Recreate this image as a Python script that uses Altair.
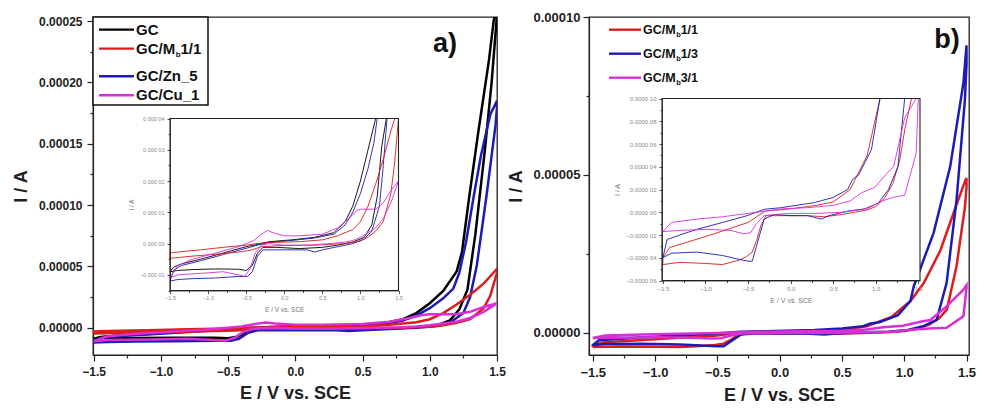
import altair as alt
import pandas as pd

FONT = "Liberation Sans"

# ---------------- Panel a) : E in V, I in microampere ----------------
A_GC_E_FWD = [-1.5, -1.4, -1.2, -0.9, -0.6, -0.5, -0.42, -0.35, -0.28, -0.1, 0.2, 0.5, 0.7, 0.9, 1.05, 1.15, 1.22, 1.28, 1.34, 1.41, 1.46, 1.5]
A_GC_I_FWD = [-9, -8.6, -8.3, -8.1, -8.2, -8.6, -7, -3, -1.2, -1.2, -1.6, -1.2, -0.5, 0.5, 2, 6, 15, 31, 77, 145, 200, 255]
A_GC_E_REV = [1.5, 1.475, 1.44, 1.36, 1.29, 1.24, 1.2, 1.1, 1.0, 0.9, 0.8, 0.65, 0.4, 0.1, -0.2, -0.3, -0.5, -0.8, -1.1, -1.35, -1.45, -1.5]
A_GC_I_REV = [265, 250, 218, 159, 104, 62, 46, 30, 20, 12, 7, 3.5, 2, 1.2, 0.6, 0, -1, -3, -5, -6.5, -7.5, -9]

A_ZN_E_FWD = [-1.5, -1.4, -1.2, -0.9, -0.6, -0.48, -0.42, -0.35, -0.28, 0.0, 0.3, 0.4, 0.5, 0.7, 0.9, 1.05, 1.15, 1.25, 1.3, 1.35, 1.42, 1.49, 1.5]
A_ZN_I_FWD = [-12, -11.5, -11.2, -11, -10.5, -10.5, -9, -4, -2, -2, -2, -2.7, -2, -1, 0, 1.5, 4, 12, 25, 51, 106, 166, 180]
A_ZN_E_REV = [1.5, 1.45, 1.38, 1.325, 1.27, 1.22, 1.175, 1.1, 1.0, 0.9, 0.8, 0.65, 0.4, 0.1, -0.2, -0.35, -0.5, -0.8, -1.1, -1.35, -1.45, -1.5]
A_ZN_I_REV = [185, 174, 140, 106, 70, 45, 32, 24, 16, 10, 6, 3, 1.8, 1, 0.4, -0.5, -1.5, -3.5, -5.5, -7, -8.5, -12]

A_MB_E_FWD = [-1.5, -1.2, -0.9, -0.6, -0.45, -0.3, 0.0, 0.4, 0.8, 1.0, 1.1, 1.2, 1.3, 1.4, 1.45, 1.5]
A_MB_I_FWD = [-4.7, -4.0, -3.4, -2.7, -2.2, -1.0, -0.6, -0.5, 0, 0.8, 2.0, 4.0, 7.0, 16, 26, 45]
A_MB_E_REV = [1.5, 1.45, 1.4, 1.3, 1.2, 1.1, 1.0, 0.9, 0.7, 0.5, 0.2, -0.1, -0.3, -0.5, -0.8, -1.1, -1.4, -1.5]
A_MB_I_REV = [48, 42, 36, 27, 19, 12, 7, 4.5, 2.5, 1.2, 0.6, 0.4, 0.2, -0.5, -1.2, -2.0, -2.7, -3.0]

A_CU_E_FWD = [-1.5, -1.4, -1.1, -0.8, -0.6, -0.52, -0.45, -0.38, -0.3, -0.2, 0.0, 0.3, 0.6, 0.8, 0.9, 1.0, 1.1, 1.2, 1.3, 1.4, 1.5]
A_CU_I_FWD = [-11, -10, -9.5, -9, -10, -10.5, -8, -3, -0.5, 0, -0.5, -0.5, 0, 0.5, 1, 2, 3.5, 5, 8, 13, 20]
A_CU_E_REV = [1.5, 1.4, 1.3, 1.2, 1.1, 1.0, 0.95, 0.85, 0.7, 0.5, 0.2, 0.0, -0.15, -0.22, -0.3, -0.4, -0.6, -0.9, -1.2, -1.4, -1.5]
A_CU_I_REV = [20, 17, 13, 11, 11, 11, 10.5, 8, 5, 3, 2.5, 2.5, 3.5, 4.2, 3, 1, -1, -3, -5, -7, -11]

# ---------------- Panel b) ----------------
B_11_E_FWD = [-1.5, -1.3, -1.0, -0.8, -0.6, -0.52, -0.45, -0.4, -0.35, -0.29, -0.1, 0.2, 0.4, 0.6, 0.9, 1.0, 1.1, 1.2, 1.28, 1.342, 1.42, 1.488, 1.5]
B_11_I_FWD = [-4.6, -4.4, -4.5, -4.6, -4.2, -3.9, -3.5, -2.5, -1.2, -0.3, -0.3, -0.3, -0.4, -0.2, 0.2, 0.5, 1.2, 2.5, 4.5, 7.3, 21, 40, 46]
B_11_E_REV = [1.5, 1.488, 1.396, 1.29, 1.157, 1.05, 0.9, 0.7, 0.5, 0.3, 0.0, -0.3, -0.5, -0.9, -1.2, -1.42, -1.5]
B_11_I_REV = [49, 48, 37.9, 26, 15.7, 10, 5, 2, 0.9, 0.6, 0.3, 0.1, -0.9, -1.9, -2.6, -3.1, -4.0]

B_13_E_FWD = [-1.5, -1.4, -1.1, -0.8, -0.63, -0.5, -0.45, -0.39, -0.31, -0.19, 0.0, 0.2, 0.36, 0.45, 0.67, 0.87, 1.03, 1.15, 1.26, 1.34, 1.42, 1.487, 1.5]
B_13_I_FWD = [-4.0, -3.6, -3.5, -3.8, -4.1, -4.3, -4.3, -2.7, -0.6, -0.2, -0.3, -0.3, -0.6, -0.3, 0.1, 0.3, 0.8, 2, 4, 15.7, 42, 73.7, 85]
B_13_E_REV = [1.5, 1.475, 1.369, 1.236, 1.077, 1.05, 0.95, 0.8, 0.73, 0.67, 0.5, 0.28, -0.11, -0.31, -0.51, -0.8, -1.1, -1.3, -1.45, -1.5]
B_13_I_REV = [91, 79, 52.6, 31.6, 14.7, 10, 5.5, 3.3, 2.9, 2.0, 1.3, 0.85, 0.4, 0.26, -0.3, -0.9, -1.5, -2.0, -2.4, -4.0]

B_31_E_FWD = [-1.5, -1.3, -1.0, -0.7, -0.55, -0.47, -0.4, -0.31, -0.2, 0.0, 0.3, 0.6, 0.9, 1.077, 1.2, 1.34, 1.475, 1.5]
B_31_I_FWD = [-1.7, -1.6, -1.5, -1.6, -1.9, -1.8, -1.0, -0.3, -0.2, -0.1, -0.1, 0.0, 0.3, 1.0, 1.3, 1.5, 5.2, 14]
B_31_E_REV = [1.5, 1.475, 1.34, 1.21, 1.14, 0.99, 0.83, 0.7, 0.5, 0.2, -0.1, -0.3, -0.5, -0.8, -1.1, -1.4, -1.5]
B_31_I_REV = [15, 13.6, 8.3, 4, 3.5, 2.2, 1.7, 1.0, 0.6, 0.4, 0.3, 0.1, -0.1, -0.4, -0.6, -0.9, -1.7]

A_NAMES = ["GC", "GC/Zn_5", "GC/Mb 1/1", "GC/Cu_1"]
A_COLORS = ["#000000", "#1c1cb4", "#dd1c1c", "#d92fd9"]
B_NAMES = ["GC/Mb 1/1", "GC/Mb 1/3", "GC/Mb 3/1"]
B_COLORS = ["#dd1c1c", "#1c1cb4", "#d92fd9"]

A_LEGEND = [("GC", "", "", "#000000"), ("GC/M", "b", "1/1", "#dd1c1c"),
            ("GC/Zn_5", "", "", "#1c1cb4"), ("GC/Cu_1", "", "", "#d92fd9")]
B_LEGEND = [("GC/M", "b", "1/1", "#dd1c1c"), ("GC/M", "b", "1/3", "#1c1cb4"),
            ("GC/M", "b", "3/1", "#d92fd9")]


def cv_table(series):
    rows = []
    for name, ef, i_f, er, i_r in series:
        es = list(ef) + list(er) + [ef[0]]
        cs = list(i_f) + list(i_r) + [i_f[0]]
        for k, (e, c) in enumerate(zip(es, cs)):
            rows.append({"series": name, "k": k, "E": e, "I": c * 1e-6})
    return pd.DataFrame(rows)


DF_A = cv_table([
    ("GC", A_GC_E_FWD, A_GC_I_FWD, A_GC_E_REV, A_GC_I_REV),
    ("GC/Zn_5", A_ZN_E_FWD, A_ZN_I_FWD, A_ZN_E_REV, A_ZN_I_REV),
    ("GC/Mb 1/1", A_MB_E_FWD, A_MB_I_FWD, A_MB_E_REV, A_MB_I_REV),
    ("GC/Cu_1", A_CU_E_FWD, A_CU_I_FWD, A_CU_E_REV, A_CU_I_REV),
])
DF_B = cv_table([
    ("GC/Mb 1/1", B_11_E_FWD, B_11_I_FWD, B_11_E_REV, B_11_I_REV),
    ("GC/Mb 1/3", B_13_E_FWD, B_13_I_FWD, B_13_E_REV, B_13_I_REV),
    ("GC/Mb 3/1", B_31_E_FWD, B_31_I_FWD, B_31_E_REV, B_31_I_REV),
])

X_TICKS = [round(-1.5 + 0.25 * i, 2) for i in range(13)]


def is_major(step):
    return f"abs(datum.value/{step} - round(datum.value/{step})) < 0.001"


def make_axis(values, step, fmt, title, *, split=False, label_size=12, title_size=18,
              tick_major=6, tick_minor=3, label_pad=4, title_pad=10, label_color="#222",
              title_color="#222", weight="bold", orient=None, offset=None, zindex=0,
              tick_width=1.2):
    test = is_major(step)
    f = f"format(datum.value, '{fmt}')"
    lab = f"slice({f},0,-2) + ' ' + slice({f},-2)" if split else f
    kw = dict(
        values=values, title=title,
        labelExpr=f"({test}) ? ({lab}) : ''",
        tickSize={"condition": {"test": test, "value": tick_major}, "value": tick_minor},
        labelFontSize=label_size, labelFont=FONT, labelFontWeight=weight,
        labelColor=label_color, labelPadding=label_pad,
        titleFontSize=title_size, titleFont=FONT, titleFontWeight=weight,
        titleColor=title_color, titlePadding=title_pad,
        tickColor="#222", tickWidth=tick_width, domainColor="#222", domainWidth=tick_width,
        labelFlush=False, labelOverlap=False, grid=False, zindex=zindex,
    )
    if orient is not None:
        kw["orient"] = orient
    if offset is not None:
        kw["offset"] = offset
    return alt.Axis(**kw)


ONE = pd.DataFrame({"k": [0]})


def vtext(x, y, s, size, color="#111", align="left", weight="bold"):
    return alt.Chart(ONE).mark_text(align=align, baseline="middle", font=FONT,
                                    fontSize=size, fontWeight=weight, color=color).encode(
        x=alt.value(x), y=alt.value(y), text=alt.value(s))


def legend_layers(entries, rows_y, x_line0, x_line1, x_text, size, sub_size):
    out = []
    for (main, sub, rest, col), y in zip(entries, rows_y):
        out.append(alt.Chart(ONE).mark_rule(color=col, strokeWidth=2.4).encode(
            x=alt.value(x_line0), x2=alt.value(x_line1), y=alt.value(y)))
        out.append(vtext(x_text, y, main, size))
        if sub:
            w = 2.611 * size
            out.append(vtext(x_text + w + 0.5, y + size * 0.42, sub, sub_size))
            out.append(vtext(x_text + w + sub_size * 0.6 + 0.5, y, rest, size))
    return out


def main_lines(df, names, colors, xdom, ydom, xaxis, yaxis):
    return alt.Chart(df).mark_line(clip=True, strokeWidth=2.5).encode(
        x=alt.X("E:Q", scale=alt.Scale(domain=xdom, nice=False, zero=False), axis=xaxis),
        y=alt.Y("I:Q", scale=alt.Scale(domain=ydom, nice=False, zero=False), axis=yaxis),
        color=alt.Color("series:N", scale=alt.Scale(domain=names, range=colors), legend=None),
        order="k:Q",
    )


def inset(df, names, colors, xdom, ydom, xrange, yrange, xaxis, yaxis):
    xs = alt.Scale(domain=xdom, range=xrange, nice=False, zero=False, clamp=True)
    ys = alt.Scale(domain=ydom, range=yrange, nice=False, zero=False, clamp=True)
    box = pd.DataFrame({"E": [xdom[0]], "E2": [xdom[1]], "I": [ydom[0]], "I2": [ydom[1]]})
    bg = alt.Chart(box).mark_rect(fill="white").encode(
        x=alt.X("E:Q", scale=xs, axis=xaxis), x2="E2",
        y=alt.Y("I:Q", scale=ys, axis=yaxis), y2="I2")
    lines = alt.Chart(df).mark_line(strokeWidth=0.9).encode(
        x=alt.X("E:Q", scale=xs, axis=xaxis),
        y=alt.Y("I:Q", scale=ys, axis=yaxis),
        color=alt.Color("series:N", scale=alt.Scale(domain=names, range=colors), legend=None),
        order="k:Q",
    )
    frame = alt.Chart(box).mark_rect(fillOpacity=0, stroke="#222", strokeWidth=1.1).encode(
        x=alt.X("E:Q", scale=xs, axis=xaxis), x2="E2",
        y=alt.Y("I:Q", scale=ys, axis=yaxis), y2="I2")
    return alt.layer(bg, lines, frame)


# ---------------- panel a ----------------
WA, HA = 404, 338
A_XDOM = [-1.505, 1.5]
A_YDOM = [-2.22e-5, 2.534e-4]
A_YTICKS = [round(2.5e-5 * i, 7) for i in range(11)]

main_a = main_lines(
    DF_A, A_NAMES, A_COLORS, A_XDOM, A_YDOM,
    make_axis(X_TICKS, 0.5, ".1f", "E / V vs. SCE", label_pad=5, title_pad=7),
    make_axis(A_YTICKS, 5e-5, ".5f", "I / A", label_pad=5, title_pad=8),
)
legend_box_a = alt.Chart(ONE).mark_rect(fill="white", stroke="#111", strokeWidth=1.5).encode(
    x=alt.value(0), x2=alt.value(115), y=alt.value(0), y2=alt.value(88))
deco_a = [legend_box_a] + legend_layers(A_LEGEND, [12.6, 31.6, 59.3, 78.3], 6, 41, 43, 15, 8) + [
    vtext(352, 27, "a)", 27, align="center")]

A_IN_YTICKS = [round(-1.5e-5 + 5e-6 * i, 8) for i in range(12)]
A_IN_XR = [77, 305.5]
A_IN_YR = [273.5, 101.5]
inset_a = inset(
    DF_A, A_NAMES, A_COLORS, [-1.5, 1.5], [-1.5e-5, 4e-5], A_IN_XR, A_IN_YR,
    make_axis(X_TICKS, 0.5, ".1f", "E / V vs. SCE", label_size=5.5, title_size=6.5,
              tick_major=3, tick_minor=2, label_pad=2, title_pad=5, label_color="#888",
              title_color="#777", weight="normal", orient="bottom",
              offset=-(HA - A_IN_YR[0]), zindex=1, tick_width=0.8),
    make_axis(A_IN_YTICKS, 1e-5, ".5f", "I / A", split=True, label_size=5.5, title_size=6.5,
              tick_major=3, tick_minor=2, label_pad=3, title_pad=5, label_color="#888",
              title_color="#777", weight="normal", orient="left",
              offset=-A_IN_XR[0], zindex=1, tick_width=0.8),
)

panel_a = alt.layer(alt.layer(main_a, *deco_a), inset_a).resolve_scale(
    x="independent", y="independent").properties(width=WA, height=HA)

# ---------------- panel b ----------------
WB, HB = 380, 338
B_XDOM = [-1.53, 1.52]
B_YDOM = [-7.1e-6, 1.0e-4]
B_YTICKS = [round(2.5e-5 * i, 7) for i in range(5)]

main_b = main_lines(
    DF_B, B_NAMES, B_COLORS, B_XDOM, B_YDOM,
    make_axis(X_TICKS, 0.5, ".1f", "E / V vs. SCE", label_size=13, label_pad=5, title_pad=7),
    make_axis(B_YTICKS, 5e-5, ".5f", "I / A", label_size=13, label_pad=3, title_pad=8),
)
deco_b = legend_layers(B_LEGEND, [12.7, 36.7, 60.7], 20, 52, 54, 12.5, 7.5) + [
    vtext(358, 23, "b)", 27, align="center")]

B_IN_YTICKS = [round(-6e-6 + 1e-6 * i, 8) for i in range(17)]
B_IN_XR = [73, 331]
B_IN_YR = [263.5, 81.5]
inset_b = inset(
    DF_B, B_NAMES, B_COLORS, [-1.51, 1.52], [-6e-6, 1e-5], B_IN_XR, B_IN_YR,
    make_axis(X_TICKS, 0.5, ".1f", "E / V vs. SCE", label_size=6, title_size=7,
              tick_major=3, tick_minor=2, label_pad=2, title_pad=5, label_color="#888",
              title_color="#777", weight="normal", orient="bottom",
              offset=-(HB - B_IN_YR[0]), zindex=1, tick_width=0.8),
    make_axis(B_IN_YTICKS, 2e-6, ".6f", "I / A", split=True, label_size=6, title_size=7,
              tick_major=3, tick_minor=2, label_pad=3, title_pad=5, label_color="#888",
              title_color="#777", weight="normal", orient="left",
              offset=-B_IN_XR[0], zindex=1, tick_width=0.8),
)

panel_b = alt.layer(alt.layer(main_b, *deco_b), inset_b).resolve_scale(
    x="independent", y="independent").properties(width=WB, height=HB)

chart = alt.hconcat(panel_a, panel_b, spacing=0).resolve_scale(color="independent").properties(
    padding={"left": 3, "top": 2, "right": 0, "bottom": 0}
).configure_view(stroke="#222", strokeWidth=1.3)

chart.save("out.html", embed_options={"renderer": "svg", "actions": False})
